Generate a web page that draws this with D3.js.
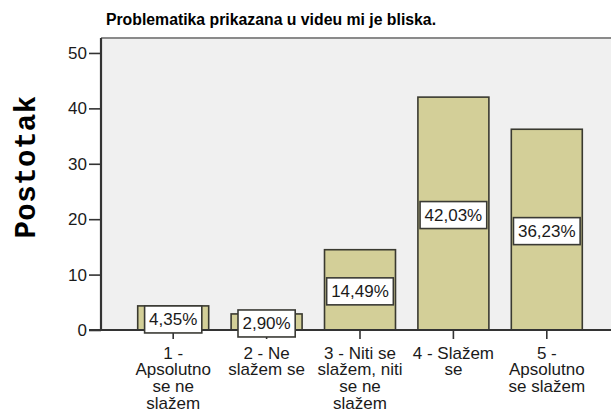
<!DOCTYPE html>
<html>
<head>
<meta charset="utf-8">
<script src="https://cdn.jsdelivr.net/npm/d3@7"></script>
<style>
  html, body { margin: 0; padding: 0; background: #ffffff; }
  svg { display: block; }
  text { font-family: "Liberation Sans", Arial, sans-serif; fill: #1a1a1a; }
</style>
</head>
<body>
<svg id="chart" width="611" height="410"></svg>
<script>
// Response categories (each entry is the list of wrapped lines)
const categoryLines = [
  ["1 -", "Apsolutno", "se ne", "slažem"],
  ["2 - Ne", "slažem se"],
  ["3 - Niti se", "slažem, niti", "se ne", "slažem"],
  ["4 - Slažem", "se"],
  ["5 -", "Apsolutno", "se slažem"]
];
const categories = categoryLines.map(l => l.join(" "));
// Percentage of respondents per category
const percents = [4.35, 2.90, 14.49, 42.03, 36.23];
const valueLabels = ["4,35%", "2,90%", "14,49%", "42,03%", "36,23%"];
const yTicks = [0, 10, 20, 30, 40, 50];

const title = "Problematika prikazana u videu mi je bliska.";
const yTitle = "Postotak";

const svg = d3.select("#chart");
const plot = { left: 101, right: 611, top: 38, bottom: 330 };

const x = d3.scaleBand()
  .domain(categories)
  .range([126.5, 593.5])
  .paddingInner(0.24)
  .paddingOuter(0.12);

const y = d3.scaleLinear()
  .domain([0, 52.7])
  .range([plot.bottom, plot.top]);

// Plot background
svg.append("rect")
  .attr("x", plot.left).attr("y", plot.top)
  .attr("width", plot.right - plot.left)
  .attr("height", plot.bottom - plot.top)
  .attr("fill", "#f0f0f0");

// Top frame line
svg.append("line")
  .attr("x1", plot.left).attr("x2", plot.right)
  .attr("y1", plot.top).attr("y2", plot.top)
  .attr("stroke", "#8a8a8a").attr("stroke-width", 2);

// Title
svg.append("text")
  .attr("x", 271).attr("y", 25)
  .attr("text-anchor", "middle")
  .style("font-weight", "bold")
  .style("font-size", "15.8px")
  .style("fill", "#000")
  .text(title);

// Y axis title
svg.append("text")
  .attr("transform", "translate(35,167) rotate(-90)")
  .attr("text-anchor", "middle")
  .style("font-family", "'Liberation Mono', 'DejaVu Sans Mono', monospace")
  .style("font-weight", "bold")
  .style("font-size", "29px")
  .style("letter-spacing", "0.5px")
  .style("fill", "#000")
  .text(yTitle);

// Bars
svg.append("g").selectAll("rect")
  .data(percents)
  .join("rect")
  .attr("x", (d, i) => x(categories[i]))
  .attr("y", d => y(d))
  .attr("width", x.bandwidth())
  .attr("height", d => y(0) - y(d))
  .attr("fill", "#d3cf98")
  .attr("stroke", "#3a3a30")
  .attr("stroke-width", 1.6);

// Y axis
const yAxis = svg.append("g")
  .attr("transform", `translate(${plot.left},0)`)
  .call(d3.axisLeft(y).tickValues(yTicks).tickSize(12).tickPadding(2).tickFormat(d3.format("d")));
yAxis.select(".domain").remove();
yAxis.selectAll(".tick line").attr("stroke", "#333").attr("stroke-width", 1.6);
yAxis.selectAll(".tick text")
  .style("font-family", "'Liberation Sans', Arial, sans-serif")
  .style("font-size", "17px")
  .attr("fill", "#222");
svg.append("line")
  .attr("x1", plot.left).attr("x2", plot.left)
  .attr("y1", plot.top).attr("y2", plot.bottom)
  .attr("stroke", "#333").attr("stroke-width", 2.2);

// X axis
const xAxis = svg.append("g")
  .attr("transform", `translate(0,${plot.bottom})`)
  .call(d3.axisBottom(x).tickSize(9).tickFormat(""));
xAxis.select(".domain").remove();
xAxis.selectAll(".tick line").attr("stroke", "#333").attr("stroke-width", 1.6);
svg.append("line")
  .attr("x1", plot.left - 12).attr("x2", plot.right)
  .attr("y1", plot.bottom).attr("y2", plot.bottom)
  .attr("stroke", "#333").attr("stroke-width", 1.8);

// Category labels, wrapped
const catG = svg.append("g");
categoryLines.forEach((lines, i) => {
  const t = catG.append("text")
    .attr("x", x(categories[i]) + x.bandwidth() / 2)
    .attr("y", 358.5)
    .attr("text-anchor", "middle")
    .style("font-size", "17px")
    .attr("fill", "#222");
  lines.forEach((ln, j) => {
    t.append("tspan")
      .attr("x", x(categories[i]) + x.bandwidth() / 2)
      .attr("dy", j === 0 ? 0 : 16.7)
      .text(ln);
  });
});

// Value labels in boxes at the middle of each bar
const lab = svg.append("g");
percents.forEach((v, i) => {
  const cx = x(categories[i]) + x.bandwidth() / 2;
  const cy = (y(v) + y(0)) / 2 + 1.5;
  const g = lab.append("g");
  const r = g.append("rect");
  const t = g.append("text")
    .attr("x", cx).attr("y", cy + 6)
    .attr("text-anchor", "middle")
    .style("font-size", "17px")
    .attr("fill", "#1a1a1a")
    .text(valueLabels[i]);
  const w = t.node().getComputedTextLength() + 9;
  r.attr("x", cx - w / 2).attr("y", cy - 13.5)
    .attr("width", w).attr("height", 27)
    .attr("fill", "#ffffff")
    .attr("stroke", "#3a3a34")
    .attr("stroke-width", 1.6);
});
</script>
</body>
</html>
